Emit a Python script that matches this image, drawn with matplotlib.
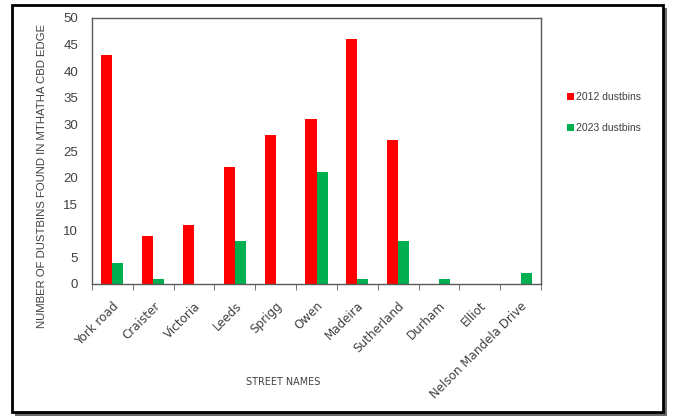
import matplotlib
matplotlib.use("Agg")
import matplotlib.pyplot as plt
import numpy as np
from matplotlib.patches import Rectangle

streets = ["York road", "Craister", "Victoria", "Leeds", "Sprigg", "Owen", "Madeira",
           "Sutherland", "Durham", "Elliot", "Nelson Mandela Drive"]
dustbins_2012 = [43, 9, 11, 22, 28, 31, 46, 27, 0, 0, 0]
dustbins_2023 = [4, 1, 0, 8, 0, 21, 1, 8, 1, 0, 2]
series_labels = ["2012 dustbins", "2023 dustbins"]
yticks = [0, 5, 10, 15, 20, 25, 30, 35, 40, 45, 50]

plt.rcParams["font.family"] = ["Liberation Sans", "DejaVu Sans"]

W, H = 674, 417
fig = plt.figure(figsize=(W/100, H/100), dpi=100)
fig.patch.set_facecolor("white")

# outer frame with shadow
fig.add_artist(Rectangle((15/W, 1-416/H), 652/W, 408/H, transform=fig.transFigure,
                         facecolor="#6a6a6a", edgecolor="none", zorder=0))
fig.add_artist(Rectangle((12/W, 1-412/H), 651/W, 407/H, transform=fig.transFigure,
                         facecolor="white", edgecolor="black", linewidth=2, zorder=1))

ax = fig.add_axes([92/W, 1-284/H, (541-92)/W, (284-18)/H])
ax.set_zorder(2)
x = np.arange(len(streets))
bw = 0.27
ax.bar(x - bw/2, dustbins_2012, width=bw, color="#FF0000", label=series_labels[0])
ax.bar(x + bw/2, dustbins_2023, width=bw, color="#00B050", label=series_labels[1])

ax.set_xlim(-0.5, len(streets) - 0.5)
ax.set_ylim(0, 50)
ax.set_yticks(yticks)
ax.tick_params(axis="y", length=0, labelsize=9.5, colors="#404040", pad=10)
ax.set_xticks(x)
ax.set_xticklabels(streets, rotation=45, ha="right", rotation_mode="anchor",
                   fontsize=8.6, color="#404040", family="DejaVu Sans")
ax.tick_params(axis="x", length=0, pad=11)
ax.set_xticks(np.arange(len(streets) + 1) - 0.5, minor=True)
ax.tick_params(axis="x", which="minor", length=4, color="#595959", direction="out")
for s in ax.spines.values():
    s.set_color("#595959")
    s.set_linewidth(1.0)

fig.text(42/W, 1-176/H, "NUMBER OF DUSTBINS FOUND IN MTHATHA CBD EDGE", rotation=90,
         ha="center", va="center", fontsize=8.2, color="#404040")
fig.text(283/W, 1-382/H, "STREET NAMES", ha="center", va="center",
         fontsize=6.9, color="#404040", family="Liberation Sans Narrow")

ax.legend(loc="upper left", bbox_to_anchor=(558/W, 1-83/H), bbox_transform=fig.transFigure,
          frameon=False, fontsize=7.5, handlelength=0.6, handleheight=0.6,
          handletextpad=0.25, labelspacing=2.0, labelcolor="#404040")

fig.savefig("out.png", dpi=100)
